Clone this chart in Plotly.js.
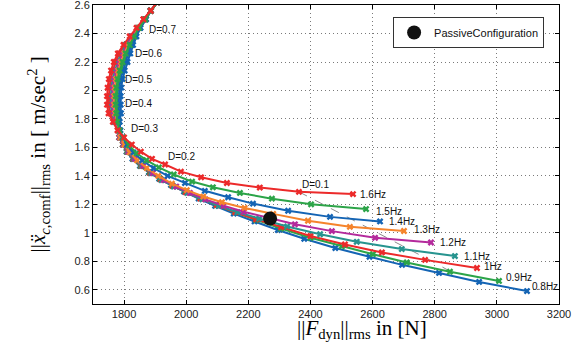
<!DOCTYPE html>
<html>
<head>
<meta charset="utf-8">
<script src="https://cdn.plot.ly/plotly-3.0.1.min.js"></script>
<style>html,body{margin:0;padding:0;background:#fff;}#chart{width:584px;height:351px;}</style>
</head>
<body>
<div id="chart"></div>
<script>
// ---- data ----
const freqLabels = ['0.8Hz','0.9Hz','1Hz','1.1Hz','1.2Hz','1.3Hz','1.4Hz','1.5Hz','1.6Hz'];
const curveColors = ['#1464b4','#2ca448','#ec2a2a','#27948f','#b42a9c','#f5842c','#1464b4','#2ca448','#ec2a2a'];

// upper (large D) branch: shared y levels, per-curve x
const upY = [2.62,2.56,2.50,2.44,2.38,2.32,2.26,2.20,2.14,2.08,2.02,1.96,1.90,1.84,1.78,1.72];
const upX08 = [1907,1886,1871,1853,1840,1829,1820,1811,1802,1795,1791,1789,1789,1790,1786,1788];
const upX09 = [1907,1886,1869,1850,1835,1821,1810,1800,1791,1784,1780,1778,1778,1780,1781,1786];
const upX10 = [1907,1886,1863,1842,1821,1802,1785,1773,1764,1757,1753,1751,1751,1755,1767,1780];
const upX11 = [1907,1886,1864,1844,1824,1806,1791,1779,1770,1763,1759,1757,1757,1761,1770,1781];
const upX12 = [1907,1886,1865,1845,1826,1810,1795,1784,1775,1768,1764,1762,1762,1765,1772,1782];
const upX13 = [1907,1886,1867,1847,1830,1814,1801,1790,1781,1774,1770,1768,1768,1771,1776,1784];
const upX14 = [1907,1886,1870,1851,1837,1825,1814,1805,1796,1789,1785,1783,1783,1784,1783,1787];
const upX15 = [1907,1886,1868,1848,1832,1818,1805,1795,1786,1779,1775,1773,1773,1775,1778,1785];
const upX16 = [1907,1886,1862,1840,1818,1798,1780,1767,1758,1751,1747,1745,1745,1750,1764,1779];

// lower (small D) branch, per curve
const lowX08 = [1790,1797,1808,1827,1851,1880,1913,1951,1993,2040,2093,2153,2220,2295,2380,2480,2590,2695,2814,2943,3097];
const lowY08 = [1.67,1.62,1.57,1.52,1.47,1.425,1.38,1.335,1.29,1.24,1.19,1.135,1.08,1.02,0.958,0.893,0.832,0.775,0.718,0.655,0.591];
const lowX09 = [1788,1796,1809,1829,1853,1882,1916,1954,1997,2044,2097,2157,2225,2305,2400,2501,2601,2710,2849,3007];
const lowY09 = [1.67,1.62,1.57,1.52,1.47,1.425,1.38,1.335,1.29,1.245,1.195,1.145,1.09,1.03,0.965,0.905,0.85,0.792,0.727,0.662];
const lowX10 = [1784,1796,1811,1830,1855,1884,1918,1956,1999,2046,2098,2158,2225,2305,2400,2511,2630,2769,2936];
const lowY10 = [1.67,1.62,1.57,1.52,1.47,1.42,1.375,1.33,1.285,1.24,1.195,1.145,1.095,1.04,0.978,0.918,0.862,0.81,0.753];
const lowX11 = [1785,1797,1812,1832,1857,1887,1921,1960,2004,2052,2105,2165,2235,2325,2431,2549,2694,2865];
const lowY11 = [1.67,1.62,1.57,1.52,1.47,1.42,1.37,1.325,1.28,1.235,1.19,1.145,1.10,1.045,0.99,0.937,0.886,0.837];
const lowX12 = [1786,1798,1814,1835,1861,1892,1928,1968,2012,2062,2120,2185,2262,2350,2469,2608,2788];
const lowY12 = [1.67,1.62,1.57,1.52,1.47,1.42,1.37,1.325,1.28,1.235,1.19,1.148,1.105,1.06,1.012,0.965,0.932];
const lowX13 = [1788,1801,1818,1842,1873,1910,1954,2002,2055,2115,2188,2280,2392,2527,2701];
const lowY13 = [1.67,1.62,1.565,1.51,1.455,1.40,1.345,1.30,1.255,1.215,1.175,1.133,1.085,1.042,1.013];
const lowX14 = [1795,1810,1830,1858,1895,1940,1996,2060,2135,2215,2328,2463,2624];
const lowY14 = [1.67,1.62,1.565,1.51,1.455,1.40,1.35,1.295,1.25,1.205,1.155,1.112,1.08];
const lowX15 = [1797,1816,1840,1872,1912,1960,2019,2086,2173,2276,2402,2579];
const lowY15 = [1.67,1.615,1.56,1.51,1.46,1.41,1.36,1.32,1.28,1.24,1.20,1.167];
const lowX16 = [1800,1825,1854,1890,1932,1983,2048,2131,2237,2363,2537];
const lowY16 = [1.67,1.62,1.57,1.52,1.48,1.43,1.39,1.35,1.318,1.288,1.272];

// iso-line D = 0.1 (grey dashed)
const isoX = [2363,2445,2525,2590,2650,2725,2800,2845];
const isoY = [1.288,1.195,1.105,1.034,0.965,0.878,0.79,0.735];

// passive configuration point
const passiveX = [2270];
const passiveY = [1.10];

// D labels
const dLabels = ['D=0.7','D=0.6','D=0.5','D=0.4','D=0.3','D=0.2','D=0.1'];
const dLabelX = [1874,1829,1797,1797,1816,1935,2366];
const dLabelY = [2.431,2.263,2.08,1.91,1.736,1.539,1.343];

const xTicks = [1800,2000,2200,2400,2600,2800,3000,3200];
const yTicks = [0.6,0.8,1,1.2,1.4,1.6,1.8,2,2.2,2.4,2.6];
const yTickText = ['0.6','0.8','1','1.2','1.4','1.6','1.8','2','2.2','2.4','2.6'];

// ---- build ----
const upXs = [upX08,upX09,upX10,upX11,upX12,upX13,upX14,upX15,upX16];
const lowXs = [lowX08,lowX09,lowX10,lowX11,lowX12,lowX13,lowX14,lowX15,lowX16];
const lowYs = [lowY08,lowY09,lowY10,lowY11,lowY12,lowY13,lowY14,lowY15,lowY16];

const traces = [];
traces.push({x:isoX,y:isoY,mode:'lines',line:{color:'#8c8c8c',width:1,dash:'dash'},showlegend:false,hoverinfo:'skip'});
const labelShift = {'0.8Hz':[3,5],'0.9Hz':[5,3],'1Hz':[5,1],'1.1Hz':[7,0],'1.2Hz':[7,0],'1.3Hz':[8,1],'1.4Hz':[7,0],'1.5Hz':[8,-2],'1.6Hz':[5,0]};
const annotations = [];
for (let i = 0; i < freqLabels.length; i++) {
  const xs = upXs[i].concat(lowXs[i]);
  const ys = upY.concat(lowYs[i]);
  traces.push({x:xs,y:ys,mode:'lines+markers',name:freqLabels[i],showlegend:false,
    line:{color:curveColors[i],width:2},
    marker:{symbol:'x',size:6,color:curveColors[i],line:{width:0}},hoverinfo:'skip'});
  const n = xs.length - 1;
  const sh = labelShift[freqLabels[i]];
  annotations.push({x:xs[n],y:ys[n],xref:'x',yref:'y',text:freqLabels[i],showarrow:false,
    xanchor:'left',yanchor:'middle',xshift:sh[0],yshift:sh[1],
    font:{family:'Liberation Sans, Arial, sans-serif',size:10,color:'#111'}});
}
traces.push({x:passiveX,y:passiveY,mode:'markers',name:'PassiveConfiguration',
  marker:{symbol:'circle',size:14,color:'#111'},showlegend:true,hoverinfo:'skip'});

for (let i = 0; i < dLabels.length; i++) {
  annotations.push({x:dLabelX[i],y:dLabelY[i],xref:'x',yref:'y',text:dLabels[i],showarrow:false,
    xanchor:'left',yanchor:'middle',font:{family:'Liberation Sans, Arial, sans-serif',size:10,color:'#111'}});
}
annotations.push({xref:'paper',yref:'paper',x:0.577,y:-0.085,xanchor:'center',yanchor:'middle',showarrow:false,
  text:'||<i>F</i><sub>dyn</sub>||<sub>rms</sub> in [N]',
  font:{family:'Liberation Serif, Times New Roman, serif',size:21,color:'#000'}});
annotations.push({xref:'paper',yref:'paper',x:-0.118,y:0.5,xanchor:'center',yanchor:'middle',showarrow:false,textangle:-90,
  text:'||<i>ẍ</i><sub><i>c</i>,comf</sub>||<sub>rms</sub> in [ m/sec<sup>2</sup> ]',
  font:{family:'Liberation Serif, Times New Roman, serif',size:21,color:'#000'}});

const axisCommon = {showline:true,linecolor:'#000',linewidth:1,mirror:'ticks',ticks:'inside',ticklen:4,tickcolor:'#000',
  showgrid:true,gridcolor:'#7a7a7a',griddash:'1px,3px',gridwidth:1,zeroline:false,ticklabeloverflow:'allow',
  tickfont:{family:'Liberation Sans, Arial, sans-serif',size:11,color:'#222'}};

const layout = {
  width:584,height:351,margin:{l:93,r:25,t:5,b:47},
  paper_bgcolor:'#fff',plot_bgcolor:'#fff',
  xaxis:Object.assign({},axisCommon,{range:[1700,3200.01],tickvals:xTicks}),
  yaxis:Object.assign({},axisCommon,{range:[0.5,2.6005],tickvals:yTicks,ticktext:yTickText}),
  showlegend:true,
  legend:{x:0.644,y:0.96,xanchor:'left',yanchor:'top',bgcolor:'#fff',bordercolor:'#333',borderwidth:1,
    font:{family:'Liberation Sans, Arial, sans-serif',size:11,color:'#111'}},
  annotations:annotations
};
Plotly.newPlot('chart',traces,layout,{staticPlot:true,displayModeBar:false});
</script>
</body>
</html>
